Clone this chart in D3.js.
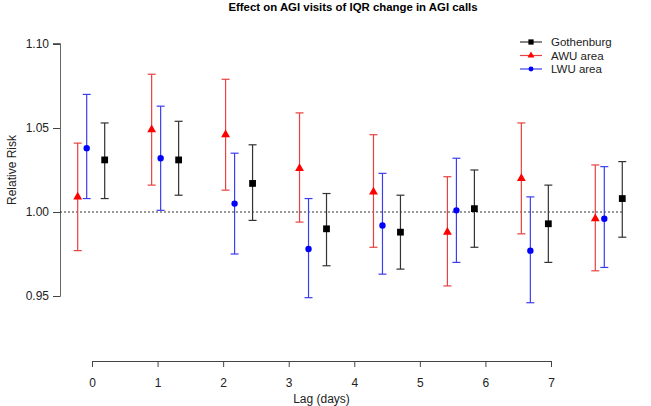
<!DOCTYPE html>
<html>
<head>
<meta charset="utf-8">
<script src="https://cdn.jsdelivr.net/npm/d3@7"></script>
<style>
  body { margin: 0; background: #fff; }
  svg { font-family: "Liberation Sans", Arial, sans-serif; }
</style>
</head>
<body>
<svg id="chart"></svg>
<script>
// lags on the x axis
const lags = [0, 1, 2, 3, 4, 5, 6, 7];
const seriesNames = ["Gothenburg", "AWU area", "LWU area"];
const yTicks = [0.95, 1.00, 1.05, 1.10];

// relative risk, lower and upper CI per lag
const gbgRR  = [1.031, 1.031, 1.017, 0.990, 0.988, 1.002, 0.993, 1.008];
const gbgLo  = [1.008, 1.010, 0.995, 0.968, 0.966, 0.979, 0.970, 0.985];
const gbgHi  = [1.053, 1.054, 1.040, 1.011, 1.010, 1.025, 1.016, 1.030];

const awuRR  = [1.009, 1.049, 1.046, 1.026, 1.012, 0.988, 1.020, 0.996];
const awuLo  = [0.977, 1.016, 1.013, 0.994, 0.979, 0.956, 0.987, 0.965];
const awuHi  = [1.041, 1.082, 1.079, 1.059, 1.046, 1.021, 1.053, 1.028];

const lwuRR  = [1.038, 1.032, 1.005, 0.978, 0.992, 1.001, 0.977, 0.996];
const lwuLo  = [1.008, 1.001, 0.975, 0.949, 0.963, 0.970, 0.946, 0.967];
const lwuHi  = [1.070, 1.063, 1.035, 1.008, 1.023, 1.032, 1.009, 1.027];

const width = 651, height = 406;
const margin = { top: 44, right: 29, bottom: 45, left: 60 };

const svg = d3.select("#chart")
    .attr("width", width)
    .attr("height", height);

// axis scale for the tick marks
const xAxisScale = d3.scaleLinear()
    .domain([0, 7])
    .range([92, 551]);

// the plotted groups are spaced a bit wider than the axis ticks
const xPos = d3.scaleLinear()
    .domain([0, 7])
    .range([77.7, 595.3]);

const yScale = d3.scaleLinear()
    .domain([0.95, 1.10])
    .range([296, 44]);

const series = [
  { name: "AWU area", rr: awuRR, lo: awuLo, hi: awuHi, color: "#ff0000", bar: "#e8413f", shape: d3.symbolTriangle, size: 34, off: 0 },
  { name: "LWU area", rr: lwuRR, lo: lwuLo, hi: lwuHi, color: "#0000ff", bar: "#3d3df0", shape: d3.symbolCircle, size: 32, off: 0.1217 },
  { name: "Gothenburg", rr: gbgRR, lo: gbgLo, hi: gbgHi, color: "#000000", bar: "#333333", shape: d3.symbolSquare, size: 46, off: 0.3649 }
];

// title
svg.append("text")
    .attr("x", 353)
    .attr("y", 11)
    .attr("text-anchor", "middle")
    .attr("font-weight", "bold")
    .style("font-size", "11.4px")
    .text("Effect on AGI visits of IQR change in AGI calls");

// y axis
const yAxis = d3.axisLeft(yScale)
    .tickValues(yTicks)
    .tickFormat(d3.format(".2f"))
    .tickSize(7)
    .tickPadding(4);

const yG = svg.append("g")
    .attr("transform", `translate(${margin.left},0)`)
    .call(yAxis);
yG.select(".domain").attr("stroke", "#666").attr("d", `M-7,296.5H0.5V43.5H-7`);
yG.selectAll(".tick line").attr("stroke", "#444");
yG.selectAll(".tick text").style("font-size", "12px").attr("fill", "#222");

// x axis
const xAxis = d3.axisBottom(xAxisScale)
    .tickValues(lags)
    .tickFormat(d3.format("d"))
    .tickSize(6)
    .tickSizeOuter(6)
    .tickPadding(11);

const xG = svg.append("g")
    .attr("transform", `translate(0,361)`)
    .call(xAxis);
xG.select(".domain").attr("stroke", "#444");
xG.selectAll(".tick line").attr("stroke", "#444");
xG.selectAll(".tick text").style("font-size", "12px").attr("fill", "#222");

// axis labels
svg.append("text")
    .attr("x", xAxisScale(3.5))
    .attr("y", 403)
    .attr("text-anchor", "middle")
    .style("font-size", "12px")
    .attr("fill", "#222")
    .text("Lag (days)");

svg.append("text")
    .attr("transform", `translate(16,170) rotate(-90)`)
    .attr("text-anchor", "middle")
    .style("font-size", "12px")
    .attr("fill", "#222")
    .text("Relative Risk");

// reference line at 1
svg.append("line")
    .attr("x1", margin.left)
    .attr("x2", width - margin.right)
    .attr("y1", yScale(1))
    .attr("y2", yScale(1))
    .attr("stroke", "#333")
    .attr("stroke-dasharray", "2,2");

// error bars and points
series.forEach(s => {
  const g = svg.append("g");
  const rows = lags.map((l, i) => ({ x: xPos(l + s.off), rr: s.rr[i], lo: s.lo[i], hi: s.hi[i] }));

  g.selectAll(".bar")
    .data(rows)
    .join("line")
      .attr("class", "bar")
      .attr("x1", d => d.x).attr("x2", d => d.x)
      .attr("y1", d => yScale(d.lo)).attr("y2", d => yScale(d.hi))
      .attr("stroke", s.bar)
      .attr("stroke-width", 1.2);

  ["lo", "hi"].forEach(k => {
    g.selectAll(".cap-" + k)
      .data(rows)
      .join("line")
        .attr("class", "cap-" + k)
        .attr("x1", d => d.x - 4).attr("x2", d => d.x + 4)
        .attr("y1", d => yScale(d[k])).attr("y2", d => yScale(d[k]))
        .attr("stroke", s.bar)
        .attr("stroke-width", 1.2);
  });

  g.selectAll(".pt")
    .data(rows)
    .join("path")
      .attr("class", "pt")
      .attr("transform", d => `translate(${d.x},${yScale(d.rr)})`)
      .attr("d", d3.symbol().type(s.shape).size(s.size))
      .attr("fill", s.color);
});

// legend
const legendOrder = [series[2], series[0], series[1]];
const legend = svg.append("g").attr("transform", "translate(520,42)");
legendOrder.forEach((s, i) => {
  const row = legend.append("g").attr("transform", `translate(0,${i * 13.5})`);
  row.append("line")
      .attr("x1", 0).attr("x2", 22)
      .attr("stroke", s.bar)
      .attr("stroke-width", 1.2);
  row.append("path")
      .attr("transform", "translate(11,0)")
      .attr("d", d3.symbol().type(s.shape).size(s.size * 0.6))
      .attr("fill", s.color);
  row.append("text")
      .attr("x", 31)
      .attr("y", 4)
      .style("font-size", "11.5px")
      .attr("fill", "#222")
      .text(s.name);
});
</script>
</body>
</html>
